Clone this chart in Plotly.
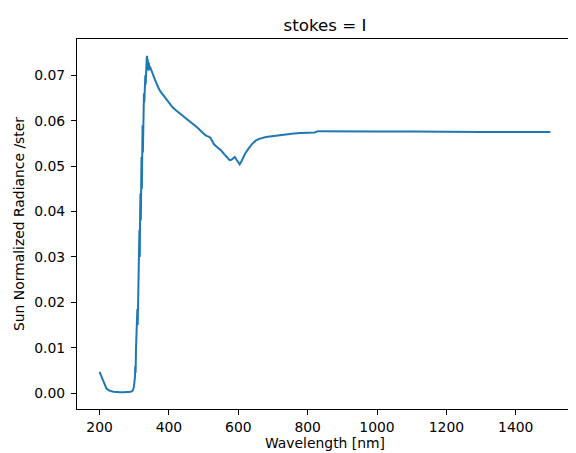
import plotly.graph_objects as go

# wavelength [nm] and sun-normalized radiance
wavelength = [
    200, 205, 210, 215, 220, 225, 230, 240, 250, 260, 270, 280, 290, 295, 298,
    300, 302, 303, 304, 305, 306, 307, 308, 309, 310, 311, 312, 313, 314, 315,
    316, 317, 318, 319, 320, 321, 322, 323, 324, 325, 326, 327, 328, 329, 330,
    331, 332, 333, 334, 335, 336, 337, 338, 339, 340, 341, 342, 343, 344, 345,
    347, 350, 355, 360, 365, 370, 375, 380, 385, 390, 395, 400, 410, 420, 430,
    440, 450, 460, 470, 480, 490, 500, 505, 510, 515, 520, 530, 540, 550, 560,
    565, 570, 575, 580, 585, 590, 595, 600, 604, 610, 620, 630, 640, 650, 660,
    680, 700, 720, 740, 760, 780, 800, 820, 830, 900, 1000, 1100, 1200, 1300, 1400,
    1500,
]
radiance = [
    0.0047, 0.0038, 0.0026, 0.0016, 0.0010, 0.0007, 0.0005, 0.0003, 0.0002, 0.0002,
    0.0002, 0.0002, 0.0003, 0.0005, 0.0010,
    0.0020, 0.0035, 0.0060, 0.0045, 0.0095, 0.0120, 0.0105, 0.0160, 0.0185, 0.0150,
    0.0230, 0.0270, 0.0240, 0.0320, 0.0360, 0.0300, 0.0400, 0.0440, 0.0380, 0.0480,
    0.0520, 0.0450, 0.0560, 0.0590, 0.0530, 0.0620, 0.0600, 0.0660, 0.0640, 0.0690,
    0.0650, 0.0700, 0.0680, 0.0725, 0.0705, 0.0738, 0.0743, 0.0715, 0.0735, 0.0722,
    0.0710, 0.0728, 0.0718, 0.0712, 0.0720,
    0.0715, 0.0712, 0.0700, 0.0690, 0.0680, 0.0672, 0.0665, 0.0660, 0.0653, 0.0648,
    0.0643, 0.0638, 0.0630, 0.0623, 0.0617, 0.0611, 0.0606, 0.0600, 0.0593, 0.0586,
    0.0579, 0.0571, 0.0568, 0.0566, 0.0565, 0.0562, 0.0548, 0.0541, 0.0535, 0.0526,
    0.0521, 0.0517, 0.0513, 0.0514, 0.0518, 0.0520, 0.0514, 0.0507, 0.0504, 0.0512,
    0.0528, 0.0539, 0.0549, 0.0556, 0.0560, 0.0564, 0.0566, 0.0569, 0.0571, 0.0572,
    0.0573, 0.0573, 0.0574, 0.0577, 0.0576, 0.0576, 0.0576, 0.0575, 0.0575, 0.0575,
    0.0575,
]

FONT = "DejaVu Sans"

fig = go.Figure()
fig.add_trace(go.Scatter(x=wavelength, y=radiance, mode="lines",
                         line=dict(color="#1f77b4", width=2), showlegend=False))

axis_style = dict(showline=True, mirror=True, linecolor="black", linewidth=1,
                  ticks="outside", ticklen=5, tickwidth=1, tickcolor="black",
                  showgrid=False, zeroline=False,
                  tickfont=dict(family=FONT, size=13.9, color="black"))

fig.update_xaxes(range=[135, 1565], tick0=200, dtick=200,
                 title=dict(text="Wavelength [nm]", standoff=4,
                            font=dict(family=FONT, size=13.9, color="black")),
                 **axis_style)
fig.update_yaxes(range=[-0.0035, 0.078], tick0=0, dtick=0.01, tickformat=".2f",
                 ticklabelstandoff=3,
                 title=dict(text="Sun Normalized Radiance /ster", standoff=6,
                            font=dict(family=FONT, size=13.9, color="black")),
                 **axis_style)

fig.update_layout(
    width=576, height=453,
    margin=dict(l=69, r=11, t=31, b=52, autoexpand=False),
    paper_bgcolor="white", plot_bgcolor="white",
    title=dict(text="stokes = I", x=0.5, xref="paper", xanchor="center",
               y=1, yref="paper", yanchor="bottom", pad=dict(b=8),
               font=dict(family=FONT, size=16.7, color="black")),
)

fig.write_html("out.html")
